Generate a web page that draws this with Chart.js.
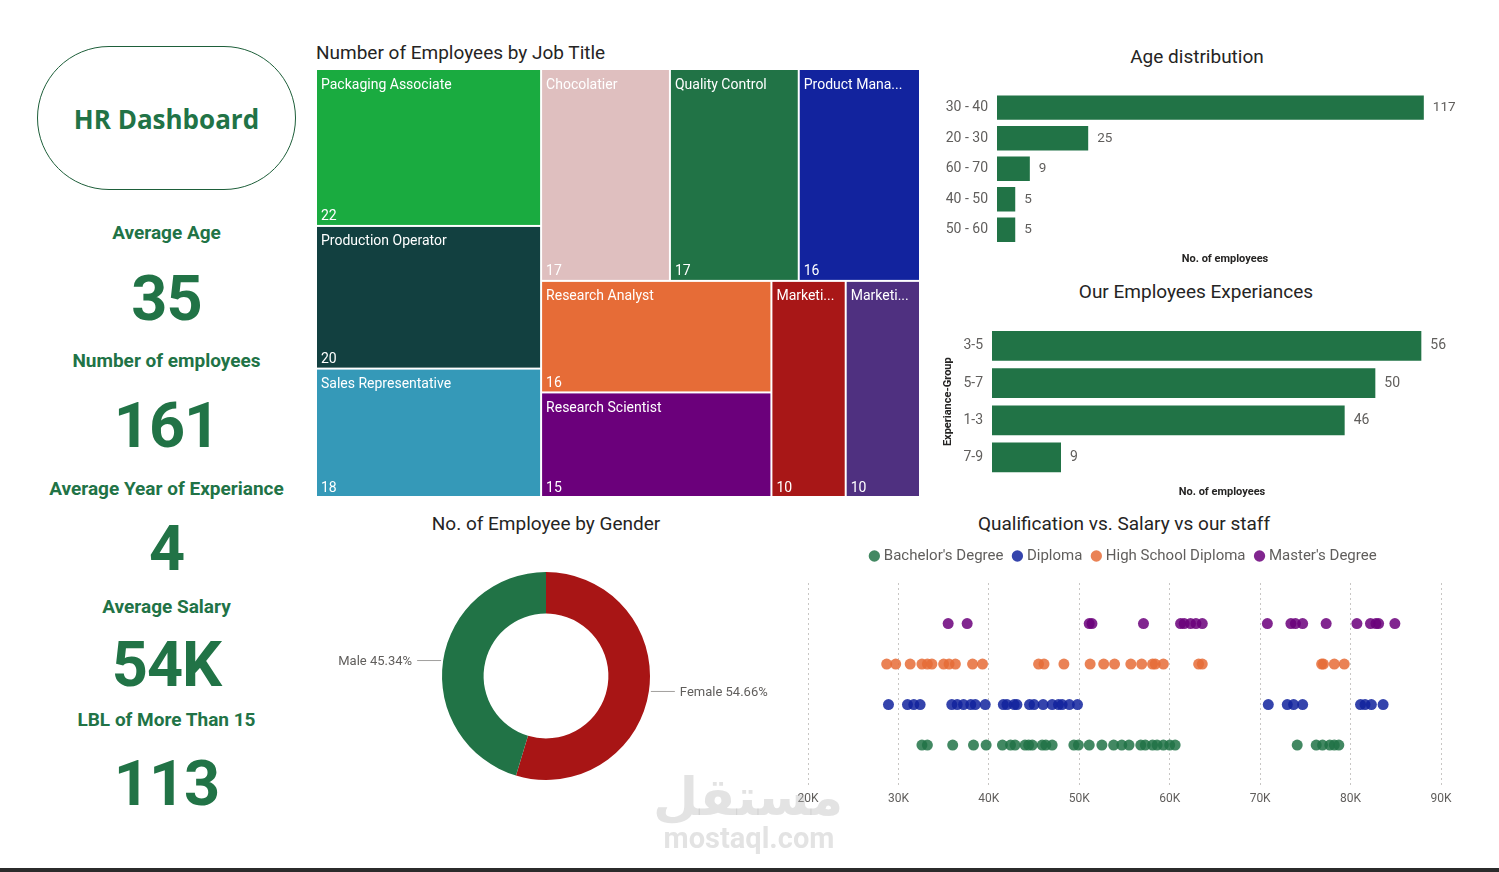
<!DOCTYPE html>
<html>
<head>
<meta charset="utf-8">
<title>HR Dashboard</title>
<script src="https://cdn.jsdelivr.net/npm/chart.js@4.4.0/dist/chart.umd.min.js"></script>
<style>
  body { margin: 0; background: #fff; }
  #page { position: relative; width: 1499px; height: 872px; overflow: hidden; font-family: Roboto, "Noto Sans", sans-serif; }
  canvas { position: absolute; }
  .t { position: absolute; white-space: nowrap; color: #252423; font-size: 19px; transform: translate(-50%, -50%); }
  .t.left { transform: translate(0, -50%); }
  .k { position: absolute; left: 0; width: 333px; text-align: center; color: #217346; font-weight: 700; white-space: nowrap; }
  .k.l { font-size: 19px; line-height: 24px; height: 24px; }
  .k.n { font-size: 63px; line-height: 70px; height: 70px; letter-spacing: -1px; }
  #pill { position: absolute; left: 37px; top: 46px; width: 257px; height: 140px; border: 1.5px solid #1E5F3A; border-radius: 72px;
          display: flex; align-items: center; justify-content: center; padding-top: 2px; box-sizing: content-box;
          font-family: "Open Sans", "Noto Sans", sans-serif; font-weight: 700; font-size: 26px; color: #217346; }
  #bottomline { position: absolute; left: 0; top: 868px; width: 1499px; height: 4px; background: #2b2b2b; }
  .wm { position: absolute; color: rgba(185, 185, 185, 0.4); font-weight: 700; white-space: nowrap; transform: translate(-50%, -50%); z-index: 5; }
</style>
</head>
<body>
<div id="page">
  <div id="pill">HR Dashboard</div>
  <div id="kpis"></div>

  <div class="t left" style="left:316px; top:52px;">Number of Employees by Job Title</div>
  <canvas id="treemap" width="604" height="428" style="left:316px; top:69px;"></canvas>

  <div class="t" style="left:1197px; top:56px;">Age distribution</div>
  <canvas id="age" width="545" height="195" style="left:930px; top:75px;"></canvas>

  <div class="t" style="left:1196px; top:291px;">Our Employees Experiances</div>
  <canvas id="exp" width="545" height="200" style="left:930px; top:310px;"></canvas>

  <div class="t" style="left:546px; top:523px;">No. of Employee by Gender</div>
  <canvas id="gender" width="470" height="275" style="left:315px; top:540px;"></canvas>

  <div class="t" style="left:1124px; top:523px;">Qualification vs. Salary vs our staff</div>
  <canvas id="salary" width="695" height="285" style="left:785px; top:530px;"></canvas>

  <div class="wm" style="left:748px; top:797px; font-family:'DejaVu Sans', sans-serif; font-size:52px;">مستقل</div>
  <div class="wm" style="left:749px; top:838px; font-size:29px;">mostaql.com</div>
  <div id="bottomline"></div>
</div>
<script>
// KPI cards
const kpiLabels = ['Average Age', 'Number of employees', 'Average Year of Experiance', 'Average Salary', 'LBL of More Than 15'];
const kpiValues = ['35', '161', '4', '54K', '113'];

// treemap: employees by job title
const jobTitles = ['Packaging Associate', 'Production Operator', 'Sales Representative', 'Chocolatier', 'Quality Control',
  'Product Mana...', 'Research Analyst', 'Research Scientist', 'Marketi...', 'Marketi...'];
const jobCounts = [22, 20, 18, 17, 17, 16, 16, 15, 10, 10];
const jobColors = ['#1AAB40', '#124040', '#3599B8', '#DFBFBF', '#217346', '#12239E', '#E66C37', '#6B007B', '#A81717', '#4F3080'];

// age distribution
const ageGroups = ['30 - 40', '20 - 30', '60 - 70', '40 - 50', '50 - 60'];
const ageCounts = [117, 25, 9, 5, 5];

// experience groups
const expGroups = ['3-5', '5-7', '1-3', '7-9'];
const expCounts = [56, 50, 46, 9];

// gender
const genders = ['Female', 'Male'];
const genderCounts = [88, 73];

// qualification vs salary
const qualifications = ["Bachelor's Degree", 'Diploma', 'High School Diploma', "Master's Degree"];
const bachelorSalaries = [32600, 33200, 36000, 38300, 39700, 41500, 42400, 42900, 44000, 44400, 44800, 45900, 46300, 47000,
  49400, 49900, 51100, 52500, 53800, 54700, 55500, 56800, 57300, 58100, 58600, 59300, 60000, 60600,
  74100, 76200, 76900, 77700, 78200, 78700];
const diplomaSalaries = [28900, 31000, 31700, 32400, 35900, 36500, 37200, 38000, 38500, 39600, 41600, 42000, 42800, 43100,
  44500, 45000, 46000, 47000, 47700, 48100, 48900, 49800, 70900, 73000, 73700, 74700, 81100, 81600, 82300, 83600];
const highSchoolSalaries = [28700, 29700, 31300, 32600, 33200, 33700, 35000, 35600, 36300, 38200, 39300, 45500, 46100, 48300,
  51200, 52700, 53900, 55700, 56900, 58100, 58400, 59300, 63200, 63600, 76800, 77000, 78200, 79300];
const masterSalaries = [35500, 37600, 51100, 51400, 57100, 61200, 61600, 62300, 62900, 63600, 70800, 73400, 73900, 74700,
  77300, 80700, 82200, 82800, 83100, 84900];
const qualColors = ['#217346', '#12239E', '#E66C37', '#6B007B'];

Chart.defaults.font.family = 'Roboto, "Noto Sans", sans-serif';
Chart.defaults.color = '#605E5C';

// left KPI column
const kpiBox = document.getElementById('kpis');
const labelCenters = [233, 361, 489, 606.5, 719.5];
const valueCenters = [298.5, 426, 548.5, 664.5, 783.5];
kpiLabels.forEach((lbl, i) => {
  const l = document.createElement('div');
  l.className = 'k l';
  l.style.top = (labelCenters[i] - 12) + 'px';
  l.textContent = lbl;
  kpiBox.appendChild(l);
  const v = document.createElement('div');
  v.className = 'k n';
  v.style.top = (valueCenters[i] - 35) + 'px';
  v.textContent = kpiValues[i];
  kpiBox.appendChild(v);
});

// squarified strips, laid along the shorter side of what is left
function squarify(values, W, H) {
  const out = [];
  let x = 0, y = 0, w = W, h = H, i = 0;
  let rest = values.reduce((a, b) => a + b, 0);
  while (i < values.length) {
    const col = w >= h;
    const side = col ? h : w;
    const worst = row => {
      const s = row.reduce((a, b) => a + b, 0);
      const t = (col ? w : h) * s / rest;
      return Math.max(...row.map(v => { const l = side * v / s; return Math.max(t / l, l / t); }));
    };
    const row = [values[i]];
    while (i + row.length < values.length && worst(row.concat(values[i + row.length])) <= 3) row.push(values[i + row.length]);
    const s = row.reduce((a, b) => a + b, 0);
    const t = (col ? w : h) * s / rest;
    let off = 0;
    row.forEach(v => {
      const l = side * v / s;
      out.push(col ? { x: x, y: y + off, w: t, h: l } : { x: x + off, y: y, w: l, h: t });
      off += l;
    });
    if (col) { x += t; w -= t; } else { y += t; h -= t; }
    rest -= s;
    i += row.length;
  }
  return out;
}

const treemapPlugin = {
  id: 'treemap',
  afterDraw(chart, args, opts) {
    const { ctx, chartArea, scales: { x, y } } = chart;
    const aspect = chartArea.width / chartArea.height;
    const cells = squarify(opts.values, aspect, 1);
    ctx.save();
    cells.forEach((c, i) => {
      const x0 = x.getPixelForValue(c.x / aspect), x1 = x.getPixelForValue((c.x + c.w) / aspect);
      const y0 = y.getPixelForValue(c.y), y1 = y.getPixelForValue(c.y + c.h);
      ctx.fillStyle = opts.colors[i];
      ctx.fillRect(x0 + 1, y0 + 1, x1 - x0 - 2, y1 - y0 - 2);
      ctx.save();
      ctx.beginPath();
      ctx.rect(x0 + 1, y0 + 1, x1 - x0 - 6, y1 - y0 - 2);
      ctx.clip();
      ctx.fillStyle = '#ffffff';
      ctx.font = '14px Roboto, "Noto Sans", sans-serif';
      ctx.textBaseline = 'middle';
      ctx.fillText(opts.labels[i], x0 + 5, y0 + 16);
      ctx.fillText(String(opts.values[i]), x0 + 5, y1 - 9);
      ctx.restore();
    });
    ctx.restore();
  }
};

new Chart(document.getElementById('treemap'), {
  type: 'scatter',
  data: { datasets: [] },
  options: {
    responsive: false, animation: false,
    layout: { padding: 0 },
    plugins: {
      legend: { display: false }, tooltip: { enabled: false },
      treemap: { labels: jobTitles, values: jobCounts, colors: jobColors }
    },
    scales: {
      x: { display: false, min: 0, max: 1 },
      y: { display: false, min: 0, max: 1, reverse: true }
    }
  },
  plugins: [treemapPlugin]
});

const barValues = {
  id: 'barValues',
  afterDatasetsDraw(chart, args, opts) {
    const { ctx } = chart;
    const meta = chart.getDatasetMeta(0);
    ctx.save();
    ctx.font = opts.size + 'px Roboto, "Noto Sans", sans-serif';
    ctx.fillStyle = '#605E5C';
    ctx.textBaseline = 'middle';
    meta.data.forEach((bar, i) => ctx.fillText(String(chart.data.datasets[0].data[i]), bar.x + 9, bar.y));
    ctx.restore();
  }
};

new Chart(document.getElementById('age'), {
  type: 'bar',
  data: {
    labels: ageGroups,
    datasets: [{ data: ageCounts, backgroundColor: '#217346', barPercentage: 0.8, categoryPercentage: 1 }]
  },
  options: {
    indexAxis: 'y', responsive: false, animation: false,
    layout: { padding: { top: 14, right: 22 } },
    plugins: { legend: { display: false }, tooltip: { enabled: false }, barValues: { size: 13.5 } },
    scales: {
      x: {
        min: 0, max: 125,
        grid: { display: false, drawTicks: false }, border: { display: false }, ticks: { display: false },
        title: { display: true, text: 'No. of employees', color: '#252423', font: { size: 11, weight: 'bold' } },
        afterFit: s => { s.height = 25; }
      },
      y: {
        grid: { display: false, drawTicks: false }, border: { display: false },
        ticks: { padding: 9, color: '#605E5C', font: { size: 14 } },
        afterFit: s => { s.width = 67; }
      }
    }
  },
  plugins: [barValues]
});

new Chart(document.getElementById('exp'), {
  type: 'bar',
  data: {
    labels: expGroups,
    datasets: [{ data: expCounts, backgroundColor: '#217346', barPercentage: 0.8, categoryPercentage: 1 }]
  },
  options: {
    indexAxis: 'y', responsive: false, animation: false,
    layout: { padding: { top: 15, right: 23 } },
    plugins: { legend: { display: false }, tooltip: { enabled: false }, barValues: { size: 14 } },
    scales: {
      x: {
        min: 0, max: 60,
        grid: { display: false, drawTicks: false }, border: { display: false }, ticks: { display: false },
        title: { display: true, text: 'No. of employees', color: '#252423', font: { size: 11, weight: 'bold' }, padding: { top: 4, bottom: 11 } },
        afterFit: s => { s.height = 34; }
      },
      y: {
        grid: { display: false, drawTicks: false }, border: { display: false },
        ticks: { padding: 9, color: '#605E5C', font: { size: 14 } },
        title: { display: true, text: 'Experiance-Group', color: '#252423', font: { size: 11, weight: 'bold' }, padding: { top: 12, bottom: 4 } },
        afterFit: s => { s.width = 62; }
      }
    }
  },
  plugins: [barValues]
});

const donutLabels = {
  id: 'donutLabels',
  afterDraw(chart) {
    const { ctx } = chart;
    const data = chart.data.datasets[0].data;
    const total = data.reduce((a, b) => a + b, 0);
    ctx.save();
    ctx.font = '13px Roboto, "Noto Sans", sans-serif';
    ctx.textBaseline = 'middle';
    chart.getDatasetMeta(0).data.forEach((arc, i) => {
      const p = arc.getProps(['x', 'y', 'startAngle', 'endAngle', 'outerRadius'], true);
      const mid = (p.startAngle + p.endAngle) / 2;
      const px = p.x + Math.cos(mid) * (p.outerRadius + 2);
      const py = p.y + Math.sin(mid) * (p.outerRadius + 2);
      const dir = Math.cos(mid) >= 0 ? 1 : -1;
      ctx.strokeStyle = '#A19F9D';
      ctx.lineWidth = 1;
      ctx.beginPath();
      ctx.moveTo(px, py);
      ctx.lineTo(px + dir * 24, py);
      ctx.stroke();
      ctx.fillStyle = '#605E5C';
      ctx.textAlign = dir > 0 ? 'left' : 'right';
      const txt = chart.data.labels[i] + ' ' + (data[i] / total * 100).toFixed(2) + '%';
      ctx.fillText(txt, px + dir * 29, py + 1);
    });
    ctx.restore();
  }
};

new Chart(document.getElementById('gender'), {
  type: 'doughnut',
  data: {
    labels: genders,
    datasets: [{ data: genderCounts, backgroundColor: ['#A81515', '#217346'], borderWidth: 0 }]
  },
  options: {
    responsive: false, animation: false, cutout: '60%',
    layout: { padding: { left: 127, right: 135, top: 32, bottom: 35 } },
    plugins: { legend: { display: false }, tooltip: { enabled: false } }
  },
  plugins: [donutLabels]
});

const legendGap = {
  id: 'legendGap',
  beforeInit(chart) {
    const fit = chart.legend.fit;
    chart.legend.fit = function () { fit.bind(chart.legend)(); this.height += 9.5; };
  }
};

const salaryRows = [bachelorSalaries, diplomaSalaries, highSchoolSalaries, masterSalaries];
new Chart(document.getElementById('salary'), {
  type: 'scatter',
  data: {
    datasets: qualifications.map((q, i) => ({
      label: q,
      data: salaryRows[i].map(s => ({ x: s, y: i + 1 })),
      backgroundColor: qualColors[i] + 'D9',
      borderWidth: 0,
      pointRadius: 5.5
    }))
  },
  options: {
    responsive: false, animation: false,
    layout: { padding: { left: 23, right: 39, top: 6.5, bottom: 3 } },
    plugins: {
      tooltip: { enabled: false },
      legend: {
        position: 'top',
        labels: { usePointStyle: true, pointStyle: 'circle', boxWidth: 4, boxHeight: 8, padding: 12, color: '#605E5C', font: { size: 15 } }
      }
    },
    scales: {
      x: {
        type: 'linear', min: 20000, max: 90000,
        ticks: { stepSize: 10000, padding: 6, color: '#605E5C', font: { size: 12 }, callback: v => (v / 1000) + 'K' },
        grid: { color: '#C8C6C4', drawTicks: false },
        border: { display: false, dash: [2, 3] }
      },
      y: { display: false, min: 0, max: 5 }
    }
  },
  plugins: [legendGap]
});
</script>
</body>
</html>
